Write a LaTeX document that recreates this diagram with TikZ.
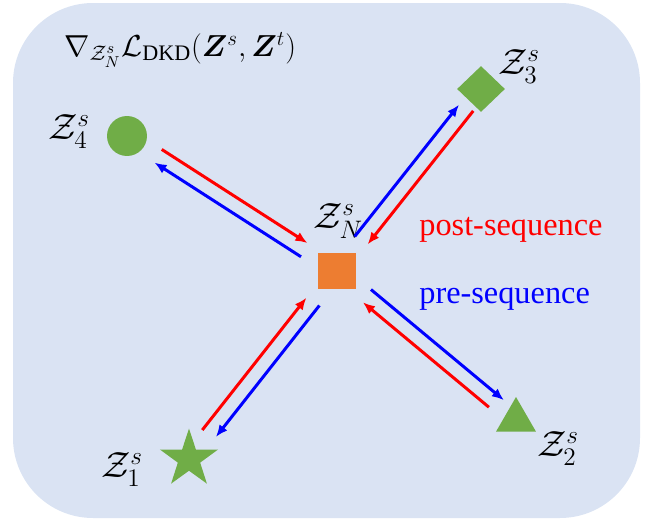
\documentclass[tikz,border=0pt]{standalone}
\usepackage{amsmath}
\usepackage{bm}
\usepackage{fontspec}
\setmainfont{Liberation Serif}
\usetikzlibrary{arrows.meta,positioning,calc,shapes.geometric}
\definecolor{panel}{HTML}{DAE3F3}
\definecolor{seedorange}{HTML}{ED7D31}
\definecolor{leafgreen}{HTML}{70AD47}
\definecolor{postred}{HTML}{FF0000}
\definecolor{preblue}{HTML}{0000FF}

\begin{document}
\begin{tikzpicture}[x=0.02cm,y=-0.02cm,>=Latex,
  feat/.style={fill=leafgreen,draw=none,inner sep=0pt},
  zlab/.style={font=\fontsize{21}{24}\selectfont,inner sep=0pt},
  seqtxt/.style={anchor=base west,inner sep=0pt,font=\fontsize{18.4}{22}\selectfont},
  post/.style={postred,line width=1.7pt,arrows={-Latex[length=0.24cm,width=0.2cm]}},
  pre/.style={preblue,line width=1.7pt,arrows={-Latex[length=0.24cm,width=0.2cm]}}]
  \useasboundingbox (0,0) rectangle (653,524);
  \fill[panel,rounded corners=1.6cm] (13,3) rectangle (640,518);
  \node[anchor=west,inner sep=0pt,font=\fontsize{18}{22}\selectfont] (title) at (64,50) {$\nabla_{\mathcal{Z}_N^s}\mathcal{L}_{\mathrm{DKD}}(\bm{Z}^s,\bm{Z}^t)$};

  \node[fill=seedorange,inner sep=0pt,minimum width=0.76cm,minimum height=0.72cm] (zn) at (337,271) {};
  \node[feat,star,star points=5,star point ratio=2.6,minimum size=1.22cm] (z1) at (189,459) {};
  \node[feat,regular polygon,regular polygon sides=3,minimum size=0.92cm] (z2) at (516,420) {};
  \node[feat,diamond,minimum width=0.96cm,minimum height=0.92cm] (z3) at (481,89) {};
  \node[feat,circle,minimum size=0.8cm] (z4) at (127,136) {};

  \node[zlab] (lzn) at (338,221) {$\mathcal{Z}_N^s$};
  \node[zlab] (lz1) at (122,470) {$\mathcal{Z}_1^s$};
  \node[zlab] (lz2) at (558,449) {$\mathcal{Z}_2^s$};
  \node[zlab] (lz3) at (519,67) {$\mathcal{Z}_3^s$};
  \node[zlab] (lz4) at (69,132) {$\mathcal{Z}_4^s$};

  \foreach \s/\gr/\gb in {z1/0.62cm/0.68cm,z2/0.58cm/0.44cm,z3/0.44cm/0.52cm,z4/0.73cm/0.75cm}{
    \draw[post,shorten <=\gr,shorten >=0.8cm] ($(\s.center)!0.15cm!90:(zn.center)$) -- ($(zn.center)!0.15cm!-90:(\s.center)$);
    \draw[pre,shorten <=0.76cm,shorten >=\gb] ($(zn.center)!0.15cm!90:(\s.center)$) -- ($(\s.center)!0.15cm!-90:(zn.center)$);
  }

  \node[seqtxt,text=postred] (posttxt) at (419,235) {post-sequence};
  \node[seqtxt,text=preblue] (pretxt) at (419,303) {pre-sequence};
\end{tikzpicture}
\end{document}
